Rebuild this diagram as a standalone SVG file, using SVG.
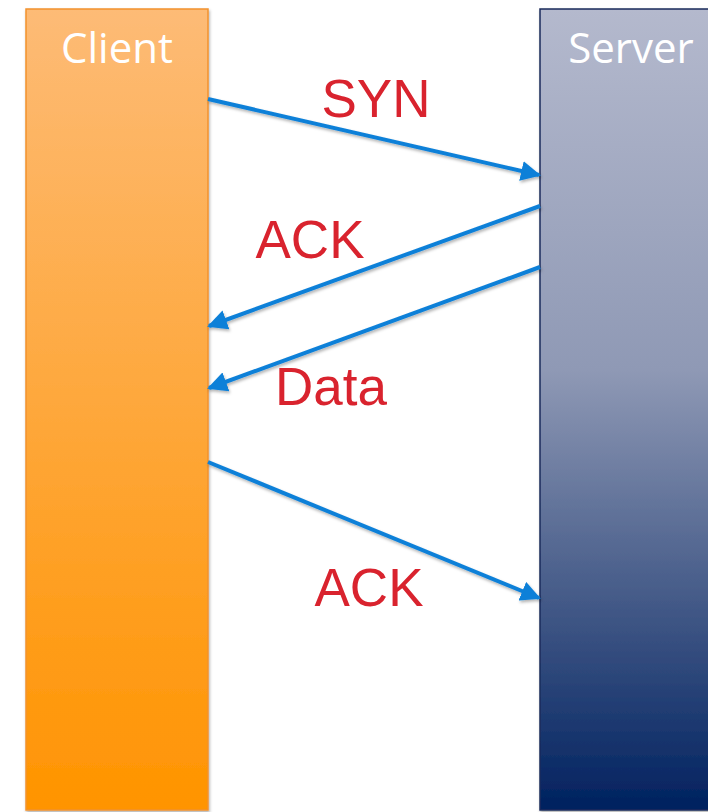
<svg xmlns="http://www.w3.org/2000/svg" width="708" height="812" viewBox="0 0 708 812">
  <style>
    .title { font-family: "Open Sans", "Noto Sans", sans-serif; font-size: 42px; fill: #ffffff; }
    .label { font-family: "Liberation Sans", Arial, sans-serif; font-size: 53px; fill: #d9232e; }
    .msg { stroke: #0f80d8; stroke-width: 4; fill: none; marker-end: url(#head); filter: url(#shadow); }
  </style>
  <defs>
    <linearGradient id="clientFill" x1="0" y1="0" x2="0" y2="1">
      <stop offset="0" stop-color="#fdbb76"/>
      <stop offset="1" stop-color="#ff9400"/>
    </linearGradient>
    <linearGradient id="serverFill" x1="0" y1="0" x2="0" y2="1">
      <stop offset="0" stop-color="#b4b9cd"/>
      <stop offset="0.45" stop-color="#8f99b5"/>
      <stop offset="1" stop-color="#00215f"/>
    </linearGradient>
    <marker id="head" viewBox="0 0 10 10" refX="9" refY="5" markerWidth="5" markerHeight="5" orient="auto" markerUnits="strokeWidth">
      <path d="M0,0 L10,5 L0,10 z" fill="#0f80d8"/>
    </marker>
    <filter id="shadow" x="-10%" y="-10%" width="120%" height="130%">
      <feDropShadow dx="1" dy="2" stdDeviation="1.5" flood-color="#000" flood-opacity="0.3"/>
    </filter>
  </defs>
  <rect width="708" height="812" fill="#ffffff"/>

  <g id="client">
    <rect x="26" y="9" width="182" height="801" fill="url(#clientFill)" stroke="#f2922e" stroke-width="1.5" filter="url(#shadow)"/>
    <text class="title" x="117" y="63" text-anchor="middle">Client</text>
  </g>

  <g id="server">
    <rect x="540" y="9" width="176" height="801" fill="url(#serverFill)" stroke="#1b2b5c" stroke-width="1.5" filter="url(#shadow)"/>
    <text class="title" x="631" y="63" text-anchor="middle">Server</text>
  </g>

  <g id="connectors">
    <line class="msg" x1="208" y1="99" x2="539" y2="175"/>
    <line class="msg" x1="540" y1="206" x2="209" y2="326"/>
    <line class="msg" x1="540" y1="267" x2="209" y2="388"/>
    <line class="msg" x1="208" y1="462" x2="539" y2="598"/>
  </g>

  <g id="labels">
    <text class="label" x="376" y="117" text-anchor="middle">SYN</text>
    <text class="label" x="310" y="258" text-anchor="middle">ACK</text>
    <text class="label" x="331" y="405" text-anchor="middle">Data</text>
    <text class="label" x="369" y="606" text-anchor="middle">ACK</text>
  </g>
</svg>
